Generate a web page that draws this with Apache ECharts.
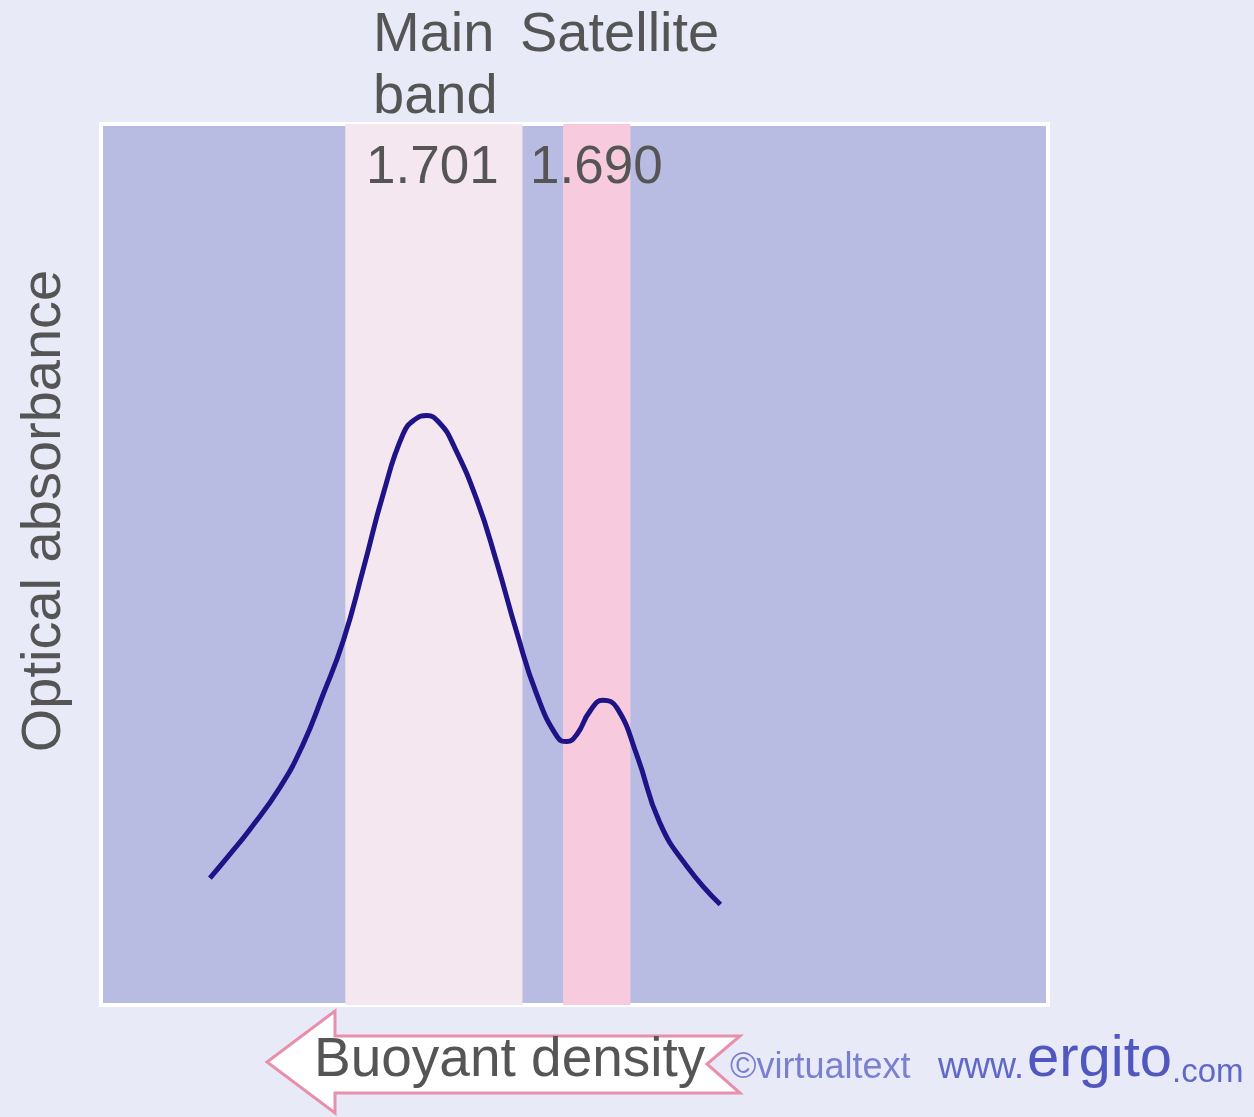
<!DOCTYPE html>
<html>
<head>
<meta charset="utf-8">
<script src="https://cdn.jsdelivr.net/npm/echarts@6/dist/echarts.min.js"></script>
<style>
  html, body { margin: 0; padding: 0; background: #e8eaf8; }
  #chart { width: 1254px; height: 1117px; }
</style>
</head>
<body>
<div id="chart"></div>
<script>
// position along the gradient (arbitrary units, 0-100) and absorbance
var positions = [11.5, 13.6, 15.7, 18.9, 21.3, 23.4, 25.6, 27.7, 29.8, 31.9, 33.2, 34.4, 35.8,
                 37.2, 39.7, 41.8, 43.9, 46.0, 48.2, 49.2, 50.3, 51.6, 53.0, 54.5, 56.6, 59.0,
                 61.9, 65.4];
var absorbance = [14.4, 17.1, 19.9, 24.7, 29.5, 35.1, 41.4, 49.5, 58.0, 64.8, 66.5, 66.9, 66.0,
                  63.6, 57.3, 50.2, 42.3, 35.3, 30.4, 29.9, 30.8, 33.3, 34.6, 33.7, 28.3, 20.7,
                  15.7, 11.4];
var bandNames = ['Main band', 'Satellite'];
var bandDensity = ['1.701', '1.690'];
var bandFrom = [25.8, 48.8];
var bandTo = [44.5, 55.9];
var bandColors = ['#f5e7ef', '#f7cbdd'];

var curve = positions.map(function (x, i) { return [x, absorbance[i]]; });
var bands = bandFrom.map(function (f, i) {
    return [{ xAxis: f, itemStyle: { color: bandColors[i] } }, { xAxis: bandTo[i] }];
});

var font = '"Liberation Sans", Arial, sans-serif';
var grey = '#555';

var myChart = echarts.init(document.getElementById('chart'));
var option = {
    backgroundColor: '#e8eaf8',
    animation: false,
    grid: {
        left: 101, top: 124, right: 206, bottom: 112,
        show: true,
        backgroundColor: '#b9bce2',
        borderColor: '#ffffff',
        borderWidth: 4
    },
    xAxis: { type: 'value', min: 0, max: 100, show: false },
    yAxis: { type: 'value', min: 0, max: 100, show: false },
    series: [
        {
            type: 'line',
            data: curve,
            smooth: 0.5,
            symbol: 'none',
            lineStyle: { color: '#1e1488', width: 5 },
            markArea: { silent: true, data: bands },
            z: 3
        }
    ],
    graphic: [
        { type: 'text', left: 373, top: 8, style: { text: 'Main', font: '56px ' + font, fill: grey } },
        { type: 'text', left: 373, top: 70, style: { text: 'band', font: '56px ' + font, fill: grey } },
        { type: 'text', left: 520, top: 8, style: { text: bandNames[1], font: '56px ' + font, fill: grey } },
        { type: 'text', left: 366, top: 142, style: { text: bandDensity[0], font: '53px ' + font, fill: grey }, z: 10 },
        { type: 'text', left: 530, top: 142, style: { text: bandDensity[1], font: '53px ' + font, fill: grey }, z: 10 },
        {
            type: 'text', x: 45, y: 511, rotation: Math.PI / 2,
            style: { text: 'Optical absorbance', font: '56px ' + font, fill: grey, align: 'center', verticalAlign: 'middle' }
        },
        {
            type: 'polygon',
            shape: { points: [[267, 1062], [335, 1011], [335, 1036], [740, 1036], [707, 1064],
                              [740, 1093], [335, 1093], [335, 1113]] },
            style: { fill: '#ffffff', stroke: '#e890ab', lineWidth: 3 }
        },
        { type: 'text', left: 314, top: 1033, style: { text: 'Buoyant density', font: '55px ' + font, fill: grey }, z: 10 },
        { type: 'text', left: 730, top: 1050, style: { text: '©virtualtext', font: '36px ' + font, fill: '#7a80d0' } },
        { type: 'text', left: 938, top: 1050, style: { text: 'www.', font: '36px ' + font, fill: '#6068c8' } },
        { type: 'text', left: 1027, top: 1031, style: { text: 'ergito', font: '58px ' + font, fill: '#5058c0' } },
        { type: 'text', left: 1172, top: 1056, style: { text: '.com', font: '33px ' + font, fill: '#6068c8' } }
    ]
};
myChart.setOption(option);
</script>
</body>
</html>
